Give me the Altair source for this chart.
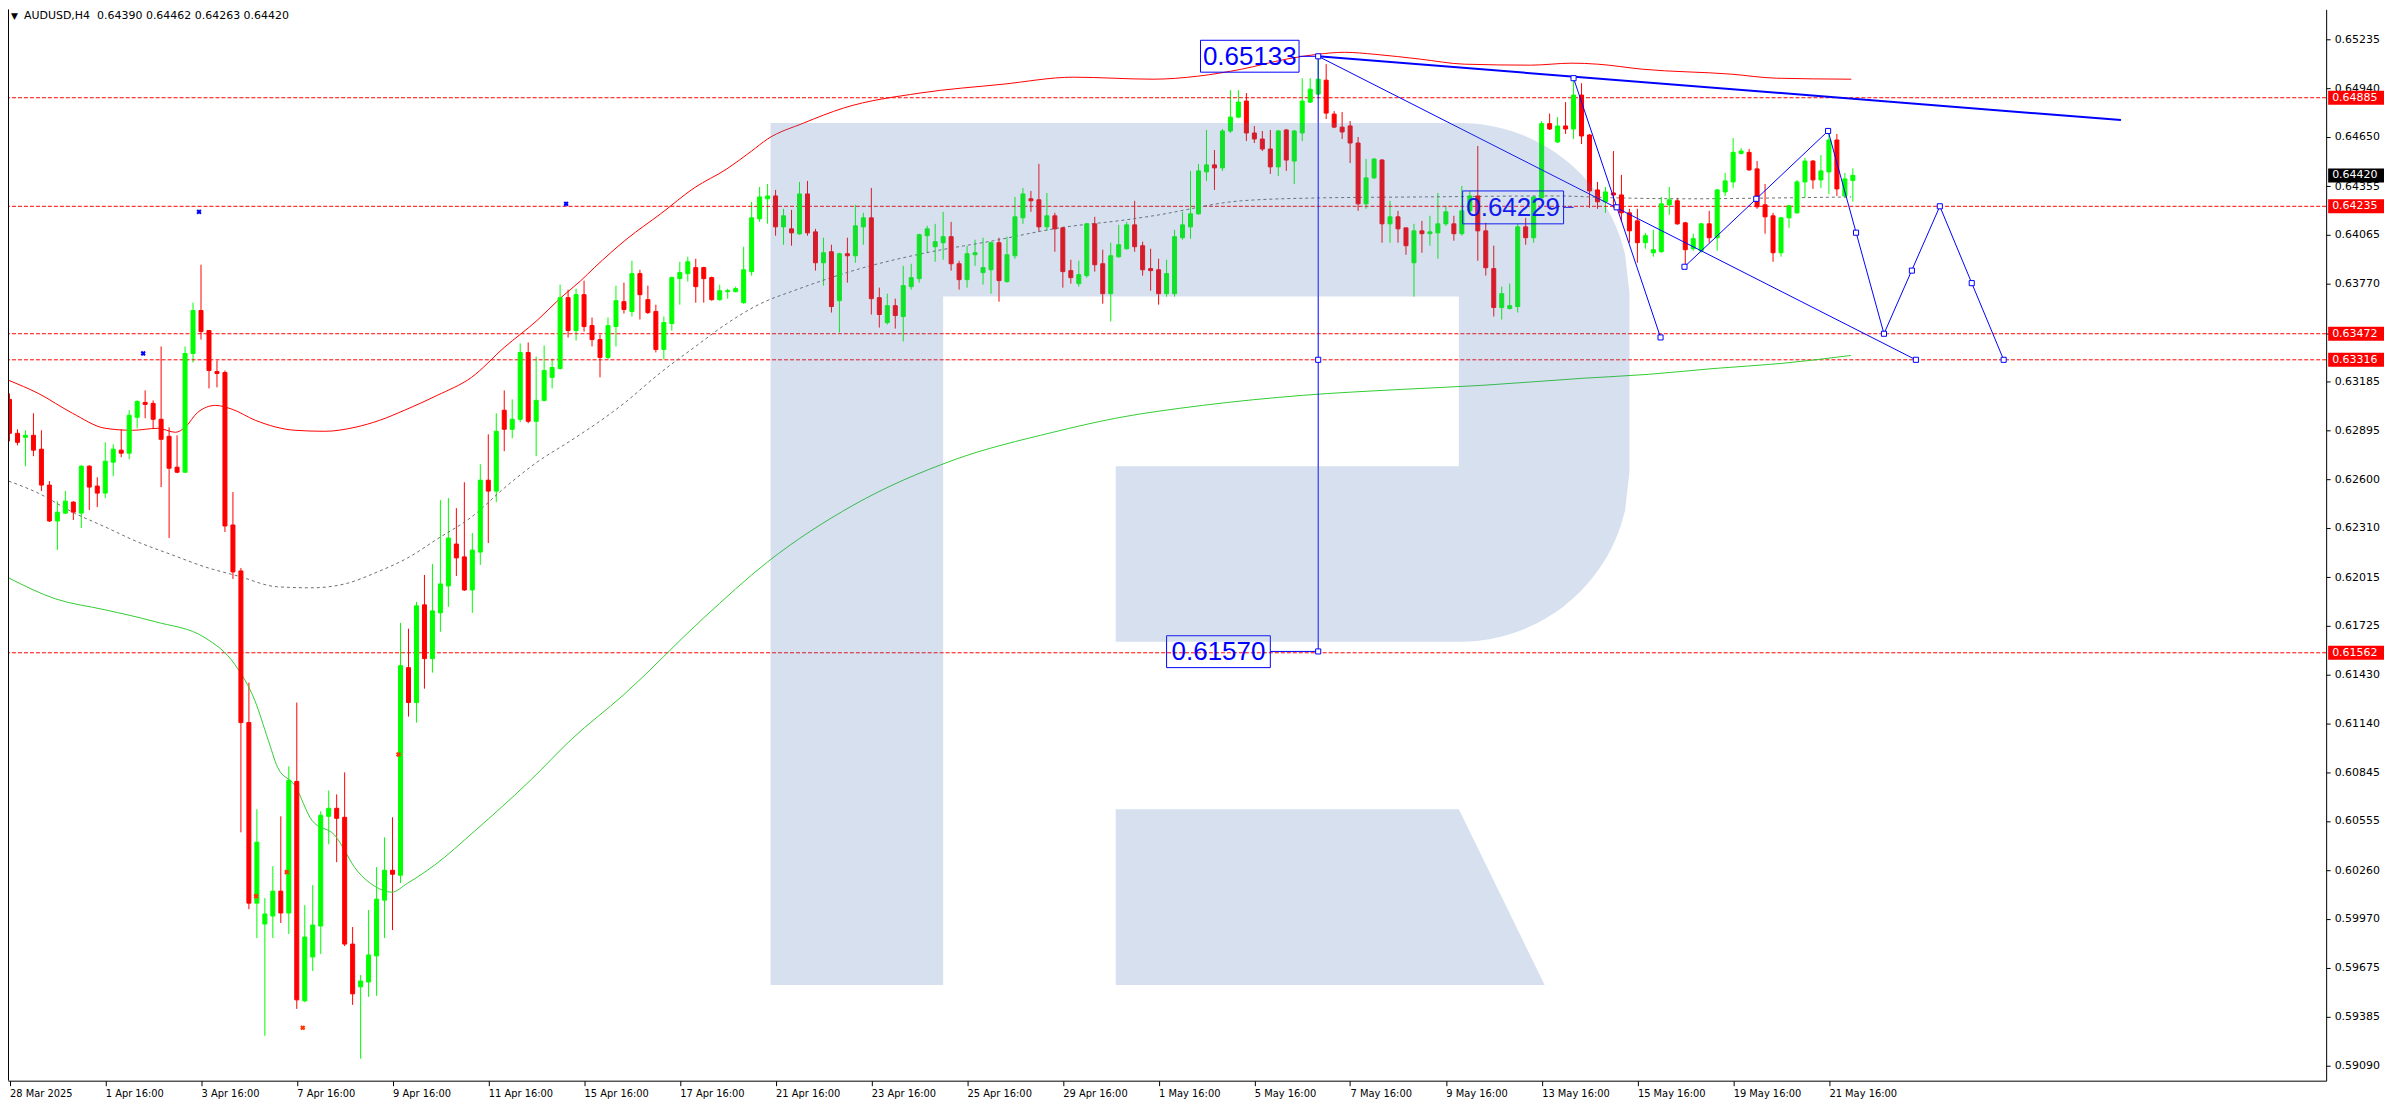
import numpy as np
import pandas as pd
import altair as alt

# ---------------- data (AUDUSD, H4) ----------------
opens = [0.63079, 0.62876, 0.62852, 0.62864, 0.62781, 0.62566, 0.62351, 0.62398, 0.62464, 0.62398,
         0.62679, 0.62560, 0.62518, 0.62703, 0.62775, 0.62757, 0.62972, 0.63061, 0.63055, 0.62960,
         0.62858, 0.62673, 0.62643, 0.63354, 0.63611, 0.63491, 0.63246, 0.63240, 0.62327, 0.62052,
         0.61144, 0.60063, 0.59938, 0.59986, 0.60135, 0.60004, 0.60792, 0.59478, 0.59741, 0.59926,
         0.60583, 0.60631, 0.60577, 0.59818, 0.59562, 0.59591, 0.59747, 0.60081, 0.60260, 0.60230,
         0.61473, 0.61264, 0.61849, 0.61527, 0.61801, 0.61962, 0.62213, 0.62136, 0.61938, 0.62165,
         0.62595, 0.62530, 0.63014, 0.62900, 0.62960, 0.63360, 0.62948, 0.63073, 0.63211, 0.63264,
         0.63688, 0.63491, 0.63706, 0.63521, 0.63437, 0.63330, 0.63515, 0.63664, 0.63605, 0.63832,
         0.63676, 0.63605, 0.63378, 0.63533, 0.63802, 0.63832, 0.63868, 0.63868, 0.63808, 0.63676,
         0.63724, 0.63724, 0.63658, 0.63844, 0.64160, 0.64280, 0.64297, 0.64112, 0.64100, 0.64070,
         0.64309, 0.64082, 0.63897, 0.63963, 0.63670, 0.63951, 0.63939, 0.64112, 0.64166, 0.63688,
         0.63539, 0.63640, 0.63575, 0.63754, 0.63802, 0.64059, 0.63993, 0.64017, 0.64053, 0.63891,
         0.63796, 0.63945, 0.63838, 0.63855, 0.64017, 0.63784, 0.63939, 0.64166, 0.64280, 0.64274,
         0.64112, 0.64178, 0.64106, 0.63850, 0.63772, 0.63820, 0.64130, 0.63891, 0.63712, 0.63933,
         0.63981, 0.64124, 0.63999, 0.63862, 0.63855, 0.63712, 0.63712, 0.64047, 0.64112, 0.64190,
         0.64441, 0.64483, 0.64465, 0.64686, 0.64769, 0.64865, 0.64674, 0.64638, 0.64578, 0.64471,
         0.64692, 0.64506, 0.64674, 0.64859, 0.64907, 0.64990, 0.64787, 0.64709, 0.64716, 0.64614,
         0.64250, 0.64405, 0.64512, 0.64130, 0.64172, 0.64106, 0.63897, 0.64088, 0.64071, 0.64076,
         0.64130, 0.64130, 0.64071, 0.64208, 0.64297, 0.64088, 0.63862, 0.63629, 0.63623, 0.63635,
         0.64112, 0.64047, 0.64286, 0.64730, 0.64620, 0.64716, 0.64698, 0.64901, 0.64662, 0.64333,
         0.64262, 0.64315, 0.64303, 0.64196, 0.64148, 0.64017, 0.63957, 0.63963, 0.64244, 0.64268,
         0.64136, 0.63981, 0.63969, 0.64130, 0.64047, 0.64321, 0.64381, 0.64552, 0.64558, 0.64459,
         0.64244, 0.64178, 0.63957, 0.64166, 0.64196, 0.64381, 0.64506, 0.64393, 0.64441, 0.64632,
         0.64297, 0.64390]
highs = [0.63115, 0.62900, 0.62894, 0.62996, 0.62894, 0.62590, 0.62470, 0.62530, 0.62470, 0.62685,
         0.62685, 0.62613, 0.62822, 0.62810, 0.62900, 0.63014, 0.63073, 0.63133, 0.63073, 0.63396,
         0.62912, 0.62864, 0.63396, 0.63658, 0.63885, 0.63491, 0.63312, 0.63252, 0.62524, 0.62070,
         0.61383, 0.60625, 0.60093, 0.60284, 0.60583, 0.60882, 0.61264, 0.60051, 0.60171, 0.60613,
         0.60738, 0.60714, 0.60846, 0.59920, 0.59633, 0.60022, 0.60278, 0.60457, 0.60577, 0.61741,
         0.61706, 0.61867, 0.62028, 0.62094, 0.62476, 0.62488, 0.62428, 0.62583, 0.62279, 0.62691,
         0.62870, 0.62996, 0.63133, 0.63079, 0.63414, 0.63420, 0.63336, 0.63402, 0.63324, 0.63766,
         0.63736, 0.63742, 0.63790, 0.63569, 0.63467, 0.63569, 0.63760, 0.63778, 0.63909, 0.63855,
         0.63760, 0.63646, 0.63575, 0.63814, 0.63903, 0.63933, 0.63921, 0.63873, 0.63814, 0.63766,
         0.63742, 0.63754, 0.63993, 0.64262, 0.64351, 0.64369, 0.64333, 0.64220, 0.64214, 0.64381,
         0.64387, 0.64100, 0.64047, 0.64005, 0.63957, 0.64047, 0.64244, 0.64196, 0.64345, 0.63748,
         0.63712, 0.63682, 0.63879, 0.63891, 0.64071, 0.64118, 0.64130, 0.64202, 0.64142, 0.63909,
         0.63999, 0.64035, 0.64047, 0.64023, 0.64047, 0.64053, 0.64291, 0.64345, 0.64327, 0.64489,
         0.64315, 0.64196, 0.64112, 0.63915, 0.63909, 0.64136, 0.64172, 0.63975, 0.64017, 0.64124,
         0.64142, 0.64268, 0.64023, 0.63981, 0.63921, 0.63915, 0.64094, 0.64202, 0.64447, 0.64489,
         0.64692, 0.64572, 0.64698, 0.64931, 0.64931, 0.64913, 0.64716, 0.64686, 0.64692, 0.64692,
         0.64698, 0.64692, 0.65002, 0.65002, 0.65133, 0.65086, 0.64805, 0.64799, 0.64745, 0.64650,
         0.64518, 0.64524, 0.64518, 0.64268, 0.64208, 0.64106, 0.64130, 0.64148, 0.64178, 0.64315,
         0.64238, 0.64178, 0.64357, 0.64327, 0.64596, 0.64136, 0.63999, 0.63754, 0.63772, 0.64130,
         0.64166, 0.64297, 0.64745, 0.64790, 0.64769, 0.64859, 0.65002, 0.64972, 0.64668, 0.64381,
         0.64351, 0.64566, 0.64423, 0.64220, 0.64220, 0.64076, 0.64094, 0.64291, 0.64351, 0.64286,
         0.64142, 0.64071, 0.64136, 0.64208, 0.64339, 0.64435, 0.64644, 0.64584, 0.64578, 0.64506,
         0.64369, 0.64196, 0.64172, 0.64244, 0.64393, 0.64524, 0.64512, 0.64542, 0.64668, 0.64668,
         0.64435, 0.64462]
lows = [0.62828, 0.62804, 0.62679, 0.62739, 0.62530, 0.62345, 0.62177, 0.62392, 0.62357, 0.62309,
        0.62416, 0.62434, 0.62488, 0.62619, 0.62733, 0.62721, 0.62906, 0.62966, 0.62906, 0.62554,
        0.62249, 0.62637, 0.62637, 0.63300, 0.63437, 0.63145, 0.63151, 0.62285, 0.62004, 0.60487,
        0.60027, 0.59854, 0.59269, 0.59854, 0.59944, 0.59878, 0.59430, 0.59470, 0.59657, 0.59759,
        0.60416, 0.60308, 0.59806, 0.59454, 0.59132, 0.59502, 0.59508, 0.59854, 0.59902, 0.60183,
        0.61180, 0.61144, 0.61347, 0.61443, 0.61688, 0.61837, 0.62022, 0.61932, 0.61801, 0.62088,
        0.62219, 0.62464, 0.62769, 0.62846, 0.62942, 0.62936, 0.62739, 0.63067, 0.63145, 0.63258,
        0.63449, 0.63431, 0.63485, 0.63396, 0.63211, 0.63320, 0.63396, 0.63593, 0.63575, 0.63557,
        0.63590, 0.63360, 0.63318, 0.63491, 0.63646, 0.63784, 0.63658, 0.63658, 0.63670, 0.63670,
        0.63682, 0.63720, 0.63652, 0.63820, 0.64142, 0.64130, 0.64059, 0.64005, 0.63999, 0.64065,
        0.64059, 0.63850, 0.63760, 0.63599, 0.63479, 0.63778, 0.63897, 0.64005, 0.63587, 0.63509,
        0.63527, 0.63503, 0.63426, 0.63736, 0.63778, 0.63957, 0.63903, 0.63915, 0.63850, 0.63736,
        0.63748, 0.63879, 0.63766, 0.63712, 0.63664, 0.63778, 0.63921, 0.64130, 0.64202, 0.64082,
        0.64088, 0.63963, 0.63748, 0.63772, 0.63754, 0.63808, 0.63844, 0.63652, 0.63545, 0.63927,
        0.63975, 0.63963, 0.63820, 0.63730, 0.63646, 0.63694, 0.63694, 0.64035, 0.64041, 0.64185,
        0.64387, 0.64333, 0.64447, 0.64674, 0.64763, 0.64626, 0.64614, 0.64566, 0.64429, 0.64417,
        0.64447, 0.64369, 0.64626, 0.64853, 0.64900, 0.64757, 0.64703, 0.64638, 0.64494, 0.64208,
        0.64220, 0.64399, 0.64017, 0.64017, 0.64017, 0.63945, 0.63694, 0.63957, 0.63999, 0.63921,
        0.64118, 0.64029, 0.64059, 0.64196, 0.63909, 0.63820, 0.63575, 0.63557, 0.63617, 0.63599,
        0.64005, 0.64017, 0.64280, 0.64692, 0.64614, 0.64668, 0.64638, 0.64608, 0.64226, 0.64220,
        0.64196, 0.64226, 0.64142, 0.64017, 0.63897, 0.63981, 0.63933, 0.63957, 0.64184, 0.64124,
        0.63867, 0.63969, 0.63957, 0.64017, 0.63969, 0.64297, 0.64345, 0.64546, 0.64447, 0.64220,
        0.64071, 0.63903, 0.63933, 0.64106, 0.64190, 0.64286, 0.64339, 0.64345, 0.64309, 0.64297,
        0.64286, 0.64263]
closes = [0.62876, 0.62822, 0.62864, 0.62775, 0.62566, 0.62351, 0.62404, 0.62470, 0.62404, 0.62679,
          0.62554, 0.62518, 0.62709, 0.62781, 0.62757, 0.62984, 0.63067, 0.63049, 0.62960, 0.62840,
          0.62667, 0.62643, 0.63354, 0.63611, 0.63485, 0.63252, 0.63234, 0.62321, 0.62046, 0.61144,
          0.60063, 0.60428, 0.59998, 0.60135, 0.60004, 0.60798, 0.59484, 0.59860, 0.59932, 0.60589,
          0.60631, 0.60571, 0.59818, 0.59520, 0.59597, 0.59753, 0.60087, 0.60260, 0.60236, 0.61485,
          0.61264, 0.61843, 0.61527, 0.61813, 0.61974, 0.62249, 0.62130, 0.61938, 0.62177, 0.62595,
          0.62530, 0.62888, 0.62900, 0.62960, 0.63360, 0.62948, 0.63073, 0.63252, 0.63270, 0.63688,
          0.63491, 0.63706, 0.63515, 0.63437, 0.63330, 0.63521, 0.63670, 0.63617, 0.63832, 0.63706,
          0.63599, 0.63378, 0.63539, 0.63808, 0.63838, 0.63903, 0.63754, 0.63802, 0.63676, 0.63730,
          0.63730, 0.63742, 0.63855, 0.64166, 0.64291, 0.64297, 0.64112, 0.64178, 0.64076, 0.64309,
          0.64076, 0.63897, 0.63957, 0.63635, 0.63951, 0.63939, 0.64118, 0.64166, 0.63682, 0.63587,
          0.63640, 0.63581, 0.63760, 0.63808, 0.64065, 0.64100, 0.64023, 0.64053, 0.63891, 0.63796,
          0.63951, 0.63957, 0.63868, 0.64017, 0.63790, 0.63945, 0.64172, 0.64309, 0.64268, 0.64112,
          0.64178, 0.64100, 0.63844, 0.63808, 0.63826, 0.64130, 0.63885, 0.63712, 0.63939, 0.64005,
          0.64124, 0.63993, 0.63855, 0.63850, 0.63712, 0.63832, 0.64053, 0.64124, 0.64190, 0.64447,
          0.64483, 0.64465, 0.64686, 0.64769, 0.64859, 0.64674, 0.64638, 0.64578, 0.64471, 0.64686,
          0.64512, 0.64686, 0.64865, 0.64936, 0.64996, 0.64793, 0.64709, 0.64680, 0.64614, 0.64250,
          0.64405, 0.64518, 0.64130, 0.64172, 0.64100, 0.63999, 0.64088, 0.64071, 0.64082, 0.64130,
          0.64202, 0.64071, 0.64208, 0.64297, 0.64088, 0.63867, 0.63629, 0.63712, 0.63640, 0.64112,
          0.64047, 0.64291, 0.64730, 0.64698, 0.64716, 0.64698, 0.64901, 0.64656, 0.64327, 0.64262,
          0.64321, 0.64303, 0.64196, 0.64088, 0.64017, 0.64059, 0.63975, 0.64250, 0.64274, 0.64130,
          0.63975, 0.64041, 0.64130, 0.64047, 0.64333, 0.64387, 0.64558, 0.64566, 0.64453, 0.64232,
          0.64172, 0.63957, 0.64166, 0.64238, 0.64381, 0.64506, 0.64393, 0.64447, 0.64632, 0.64339,
          0.64399, 0.64420]

time_labels = ["28 Mar 2025", "1 Apr 16:00", "3 Apr 16:00", "7 Apr 16:00", "9 Apr 16:00",
               "11 Apr 16:00", "15 Apr 16:00", "17 Apr 16:00", "21 Apr 16:00", "23 Apr 16:00",
               "25 Apr 16:00", "29 Apr 16:00", "1 May 16:00", "5 May 16:00", "7 May 16:00",
               "9 May 16:00", "13 May 16:00", "15 May 16:00", "19 May 16:00", "21 May 16:00"]
label_bars = [0, 12, 24, 36, 48, 60, 72, 84, 96, 108, 120, 132, 144, 156, 168, 180, 192, 204, 216, 228]

price_ticks = [0.65235, 0.64940, 0.64650, 0.64355, 0.64065, 0.63770, 0.63475, 0.63185, 0.62895,
               0.62600, 0.62310, 0.62015, 0.61725, 0.61430, 0.61140, 0.60845, 0.60555, 0.60260,
               0.59970, 0.59675, 0.59385, 0.59090]
level_lines = [0.64885, 0.64235, 0.63472, 0.63316, 0.61562]
current_price = 0.64420
title_text = "AUDUSD,H4\u00a0\u00a00.64390 0.64462 0.64263 0.64420"

# moving-average style overlays (bar position, price)
ma_red_i = [-0.1, 3.6, 7.9, 12, 15.4, 18.6, 20.8, 22, 23.6, 25.8, 27.9, 30.8, 35.8, 39.5, 43.3, 46.4,
            49.5, 53.6, 57.9, 62, 66.1, 69.1, 71.6, 73.3, 77.4, 81.6, 85.8, 89.9, 93, 95, 99.5, 104.5,
            114.1, 124.5, 133.3, 143.3, 148.9, 154.4, 160, 163.9, 167.3, 171.1, 176.8, 182.3, 190.6,
            195.8, 199, 204.6, 215.8, 221.4, 230.8]
ma_red_p = [0.63193, 0.63115, 0.62996, 0.62906, 0.62894, 0.62906, 0.62882, 0.62912, 0.63002, 0.63043,
            0.63020, 0.62954, 0.62894, 0.62888, 0.62912, 0.62954, 0.63014, 0.63103, 0.63211, 0.63390,
            0.63551, 0.63688, 0.63790, 0.63868, 0.64041, 0.64190, 0.64345, 0.64459, 0.64566, 0.64638,
            0.64733, 0.64823, 0.64913, 0.64966, 0.65008, 0.64996, 0.65014, 0.65056, 0.65116, 0.65145,
            0.65157, 0.65145, 0.65116, 0.65086, 0.65080, 0.65092, 0.65086, 0.65056, 0.65026, 0.65002,
            0.64996]
ma_grey_i = [-0.1, 3.6, 7.9, 12, 16.1, 20.4, 24.5, 28.6, 33.6, 37.9, 42, 46.1, 49.9, 53.6, 57.9, 62,
             66.1, 70.4, 74.5, 77, 81.6, 85.8, 89.9, 94.1, 98.3, 106.6, 114.9, 123.3, 131.6, 139.9,
             143.3, 154.4, 163.9, 176.8, 193.5, 201.9, 210.3, 221.4, 230.8]
ma_grey_p = [0.62590, 0.62518, 0.62404, 0.62315, 0.62225, 0.62148, 0.62076, 0.62022, 0.61957, 0.61951,
             0.61974, 0.62046, 0.62130, 0.62243, 0.62375, 0.62548, 0.62703, 0.62834, 0.62966, 0.63055,
             0.63240, 0.63390, 0.63533, 0.63652, 0.63730, 0.63862, 0.63957, 0.64029, 0.64106, 0.64154,
             0.64178, 0.64268, 0.64285, 0.64291, 0.64297, 0.64285, 0.64280, 0.64285, 0.64291]
ma_green_i = [-0.1, 5.75, 12, 18.25, 24.5, 28.25, 30.75, 32.4, 33.6, 35.75, 37.9, 40.75, 43.6, 45.75,
              47.9, 49.9, 53.25, 58.25, 65.4, 70.4, 77, 87, 95, 105.75, 118.25, 130.75, 138.6, 149.5,
              162, 174.5, 184.5, 197, 205.4, 213.6, 222, 230.75]
ma_green_p = [0.62010, 0.61885, 0.61819, 0.61748, 0.61652, 0.61491, 0.61276, 0.61043, 0.60876, 0.60768,
              0.60559, 0.60470, 0.60255, 0.60165, 0.60129, 0.60183, 0.60290, 0.60493, 0.60804, 0.61043,
              0.61312, 0.61771, 0.62106, 0.62446, 0.62715, 0.62882, 0.62966, 0.63043, 0.63103, 0.63139,
              0.63163, 0.63205, 0.63229, 0.63264, 0.63294, 0.63342]

# blue forecast drawing (bar position, price)
seg_i1 = [164, 164, 164, 196, 209.9, 227.9, 234.9, 241.9, 161.6, 158.0, 194.75]
seg_p1 = [0.65133, 0.65133, 0.65133, 0.65002, 0.63873, 0.64686, 0.63472, 0.64235, 0.65133, 0.61570, 0.64229]
seg_i2 = [164, 264.6, 238.9, 206.9, 227.9, 234.9, 241.9, 249.9, 164, 164, 196]
seg_p2 = [0.61570, 0.64751, 0.63316, 0.63450, 0.64686, 0.63472, 0.64235, 0.63316, 0.65133, 0.61570, 0.64229]
seg_w = [1, 2, 1, 1, 1, 1, 1, 1, 1, 1, 1]
sq_i = [164, 164, 164, 196, 201.4, 206.9, 209.9, 218.9, 227.9, 231.4, 234.9, 238.4, 241.9, 245.9, 249.9, 238.9]
sq_p = [0.65133, 0.63316, 0.61570, 0.65002, 0.64229, 0.63450, 0.63873, 0.64280, 0.64686, 0.64077,
        0.63472, 0.63850, 0.64235, 0.63775, 0.63316, 0.63316]
box_text = ["0.65133", "0.61570", "0.64229"]
box_i1 = [149.25, 145.0, 182.1]
box_i2 = [161.6, 158.0, 194.75]
box_ptop = [0.65229, 0.61664, 0.64327]
box_pbot = [0.65038, 0.61473, 0.64130]
box_p = [0.65133, 0.61570, 0.64229]

mark_i = [16.75, 23.75, 69.75, 30.9, 34.75, 36.75, 48.75]
mark_p = [0.63354, 0.64202, 0.64250, 0.60105, 0.60249, 0.59317, 0.60953]
mark_c = ["#0000ff", "#0000ff", "#0000ff", "#ff3300", "#ff3300", "#ff3300", "#ff3300"]

# ---------------- layout ----------------
W, H = 2324, 1074
PPU = 16745.0
X_LO = -0.1875
X_HI = X_LO + W / 8.0
Y_HI = 0.65414
Y_LO = Y_HI - H / PPU

xs = alt.Scale(domain=[X_LO, X_HI], nice=False, zero=False)
ys = alt.Scale(domain=[Y_LO, Y_HI], nice=False, zero=False)


def ref_i(px):
    return (np.asarray(px, dtype=float) - 4.0) / 8.0


def ref_p(py):
    return 0.65462 - np.asarray(py, dtype=float) / PPU


AX_FONT = "DejaVu Sans"
TIME_FONT = "DejaVu Sans Condensed, Liberation Sans Narrow, DejaVu Sans"

label_expr = "[" + ",".join("'" + t + "'" for t in time_labels) + "][round(datum.value / 12)]"

xaxis = alt.Axis(values=label_bars, labelExpr=label_expr, orient="bottom", grid=False,
                 tickSize=5, tickColor="black", domainColor="black", labelAlign="left",
                 labelBaseline="top", labelPadding=2, labelFont=TIME_FONT, labelFontSize=11,
                 labelColor="black", labelOverlap=False, labelFlush=False, title=None)
yaxis = alt.Axis(orient="right", values=price_ticks, format=".5f", grid=False, tickSize=4,
                 labelPadding=4, labelFont=AX_FONT, labelFontSize=11, labelColor="black",
                 domainColor="black", tickColor="black", title=None, labelOverlap=False,
                 labelFlush=False)


def X(field):
    return alt.X(field, type="quantitative", scale=xs, axis=xaxis)


def Y(field):
    return alt.Y(field, type="quantitative", scale=ys, axis=yaxis)


# candles
cd = pd.DataFrame({"i": np.arange(len(opens)), "o": opens, "h": highs, "l": lows, "c": closes})
cd["dir"] = np.where(cd["c"] >= cd["o"], "up", "down")
cd["xl"] = cd["i"] - 0.25
cd["xr"] = cd["i"] + 0.25
col_scale = alt.Scale(domain=["up", "down"], range=["#00ff00", "#ff0000"])

wicks = alt.Chart(cd).mark_rule(strokeWidth=1).encode(
    x=X("i"), y=Y("l"), y2="h:Q",
    color=alt.Color("dir:N", scale=col_scale, legend=None),
)
bodies = alt.Chart(cd).mark_rect(strokeWidth=1).encode(
    x=X("xl"), x2="xr:Q", y=Y("o"), y2="c:Q",
    color=alt.Color("dir:N", scale=col_scale, legend=None),
    stroke=alt.Stroke("dir:N", scale=col_scale, legend=None),
)

# horizontal levels
levels = alt.Chart(pd.DataFrame({"p": level_lines})).mark_rule(
    color="#ff0000", strokeWidth=1, strokeDash=[4, 2]
).encode(y=Y("p"))


def ma_layer(ii, pp, color, dash=None):
    kw = dict(color=color, strokeWidth=1, interpolate="monotone")
    if dash is not None:
        kw["strokeDash"] = dash
    return alt.Chart(pd.DataFrame({"i": ii, "p": pp})).mark_line(**kw).encode(x=X("i"), y=Y("p"))


ma_red = ma_layer(ma_red_i, ma_red_p, "#ff0000")
ma_grey = ma_layer(ma_grey_i, ma_grey_p, "#6e6e6e", [3, 3])
ma_green = ma_layer(ma_green_i, ma_green_p, "#32cd32")

# blue forecast
segs = pd.DataFrame({"i1": seg_i1, "p1": seg_p1, "i2": seg_i2, "p2": seg_p2, "w": seg_w})
seg_layer = alt.Chart(segs).mark_rule(color="#0000ff").encode(
    x=X("i1"), x2="i2:Q", y=Y("p1"), y2="p2:Q",
    strokeWidth=alt.StrokeWidth("w:Q", scale=None, legend=None),
)
squares = alt.Chart(pd.DataFrame({"i": sq_i, "p": sq_p})).mark_point(
    shape="square", size=26, filled=False, fill="white", fillOpacity=1,
    stroke="#0000ff", strokeWidth=1, opacity=1
).encode(x=X("i"), y=Y("p"))

boxes_df = pd.DataFrame({"t": box_text, "i1": box_i1, "i2": box_i2, "pt": box_ptop,
                         "pb": box_pbot, "p": box_p})
boxes_df["ic"] = (boxes_df["i1"] + boxes_df["i2"]) / 2
box_rects = alt.Chart(boxes_df).mark_rect(filled=False, color="#0000ff", strokeWidth=1).encode(
    x=X("i1"), x2="i2:Q", y=Y("pt"), y2="pb:Q")
box_texts = alt.Chart(boxes_df).mark_text(
    font="Liberation Sans", fontSize=26, color="#0000ff", align="center", baseline="middle", dy=1
).encode(x=X("ic"), y=Y("p"), text="t:N")

markers = alt.Chart(pd.DataFrame({"i": mark_i, "p": mark_p, "c": mark_c})).mark_point(
    shape="cross", angle=45, filled=True, size=28, opacity=1
).encode(x=X("i"), y=Y("p"), color=alt.Color("c:N", scale=None, legend=None))

# watermark "R" (semi-transparent overlay)
WM_COLOR, WM_OP = "#4e79b6", 0.23
rect_px = pd.DataFrame({
    "x1": [767, 940, 1113], "x2": [940, 1457, 1457],
    "y1": [122, 122, 466], "y2": [986, 296, 642]})
wm_rects_df = pd.DataFrame({"i1": ref_i(rect_px.x1), "i2": ref_i(rect_px.x2),
                            "p1": ref_p(rect_px.y1), "p2": ref_p(rect_px.y2)})
wm_rects = alt.Chart(wm_rects_df).mark_rect(color=WM_COLOR, opacity=WM_OP).encode(
    x=X("i1"), x2="i2:Q", y=Y("p1"), y2="p2:Q")

arc_x = np.linspace(1457, 1628, 40)
arc_h = np.sqrt(np.clip(170.0 ** 2 - np.clip(arc_x - 1458, 0, 170) ** 2, 0, None))
bowl_df = pd.DataFrame({"i": ref_i(arc_x), "pt": ref_p(292 - arc_h), "pb": ref_p(472 + arc_h)})
wm_bowl = alt.Chart(bowl_df).mark_area(color=WM_COLOR, opacity=WM_OP).encode(
    x=X("i"), y=Y("pt"), y2="pb:Q")

leg_df = pd.DataFrame({"i": ref_i([1113, 1457, 1543]), "pt": ref_p([810, 810, 986]),
                       "pb": ref_p([986, 986, 986])})
wm_leg = alt.Chart(leg_df).mark_area(color=WM_COLOR, opacity=WM_OP).encode(
    x=X("i"), y=Y("pt"), y2="pb:Q")

# right-axis price tags
tags = pd.DataFrame({"p": level_lines + [current_price],
                     "c": ["#ff0000"] * len(level_lines) + ["#000000"]})
tags["t"] = tags["p"].map(lambda v: f"{v:.5f}")
tags["y1"] = tags["p"] + 0.00042
tags["y2"] = tags["p"] - 0.00042
tag_rects = alt.Chart(tags).mark_rect().encode(
    x=alt.value(W + 2), x2=alt.value(W + 58),
    y=Y("y1"), y2="y2:Q",
    color=alt.Color("c:N", scale=None, legend=None))
tag_texts = alt.Chart(tags).mark_text(
    align="left", baseline="middle", font=AX_FONT, fontSize=11, color="white"
).encode(x=alt.value(W + 6), y=Y("p"), text="t:N")

# frame + title
frame_left = alt.Chart(pd.DataFrame({"a": [0]})).mark_rule(color="black", strokeWidth=1).encode(
    x=alt.value(0.5), y=alt.value(0), y2=alt.value(H))
title_df = pd.DataFrame({"t": [title_text], "g": ["\u25bc"]})
title_txt = alt.Chart(title_df).mark_text(
    align="left", baseline="middle", font=AX_FONT, fontSize=11, color="black"
).encode(x=alt.value(16), y=alt.value(7), text="t:N")
title_tri = alt.Chart(title_df).mark_text(
    align="left", baseline="middle", font=AX_FONT, fontSize=9, color="black"
).encode(x=alt.value(3), y=alt.value(7), text="g:N")

chart = alt.layer(
    wicks, levels, ma_red, ma_grey, ma_green, bodies, markers,
    seg_layer, squares, box_rects, box_texts,
    wm_rects, wm_bowl, wm_leg,
    tag_rects, tag_texts, frame_left, title_tri, title_txt,
).properties(
    width=W, height=H,
    autosize=alt.AutoSizeParams(type="none"),
    padding={"left": 0, "top": 0, "right": 62, "bottom": 22},
    background="white",
).configure_view(stroke=None)

chart.save("out.html", embed_options={"renderer": "svg", "actions": False})
